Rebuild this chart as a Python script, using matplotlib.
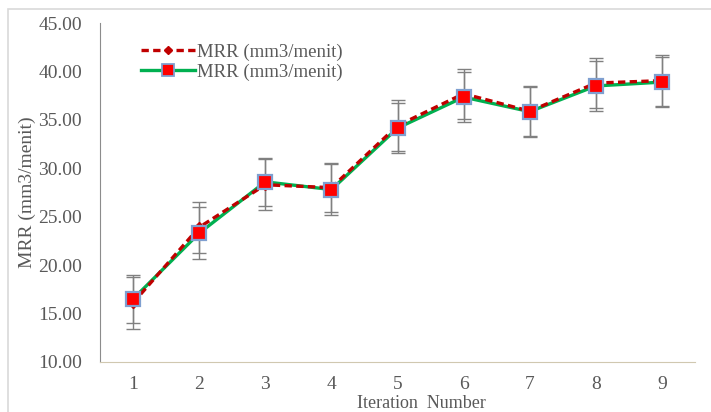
import numpy as np
import matplotlib.pyplot as plt
from matplotlib.lines import Line2D
from matplotlib.patches import Rectangle

# Data
iterations = [1, 2, 3, 4, 5, 6, 7, 8, 9]
mrr_red = [16.1, 23.9, 28.3, 28.0, 34.4, 37.7, 35.9, 38.8, 39.05]
err_red = [2.7, 2.6, 2.65, 2.5, 2.6, 2.6, 2.55, 2.6, 2.65]
mrr_green = [16.5, 23.3, 28.6, 27.8, 34.15, 37.35, 35.85, 38.5, 38.9]
err_green = [2.5, 2.7, 2.45, 2.6, 2.55, 2.55, 2.58, 2.55, 2.55]
series_label = 'MRR (mm3/menit)'

plt.rcParams['font.family'] = ['Liberation Serif', 'DejaVu Serif']

fig = plt.figure(figsize=(7.11, 4.12), dpi=100)
# chart-area border, as in the exported figure
fig.patches.append(Rectangle((8 / 711, -0.1), 1.2, 1.1 - 9 / 412,
                             transform=fig.transFigure, fill=False,
                             edgecolor='#d9d9d9', linewidth=1.2))
ax = fig.add_axes([100 / 711, 50 / 412, 595 / 711, 339 / 412])

red = '#c00000'
green = '#00b050'
grey = '#808080'

ax.errorbar(iterations, mrr_red, yerr=err_red, fmt='none', ecolor=grey,
            elinewidth=1.0, capsize=5, capthick=1.0, zorder=1)
ax.errorbar(iterations, mrr_green, yerr=err_green, fmt='none', ecolor=grey,
            elinewidth=1.0, capsize=5, capthick=1.0, zorder=1)

ax.plot(iterations, mrr_green, color=green, linewidth=2.4, zorder=2)
ax.plot(iterations, mrr_red, color=red, linewidth=2.4, linestyle=(0, (2.2, 1.3)),
        marker='D', markersize=5, markerfacecolor=red, markeredgecolor=red, zorder=3)
ax.plot(iterations, mrr_green, linestyle='none', marker='s', markersize=10.5,
        markerfacecolor='#ff0000', markeredgecolor='#7f9fd0', markeredgewidth=1.6, zorder=4)

ax.set_xlim(0.5, 9.5)
ax.set_ylim(10, 45)
ax.set_xticks(iterations)
ax.set_yticks(np.arange(10, 46, 5))
ax.set_yticklabels([f'{v:.2f}' for v in np.arange(10, 46, 5)])
ax.tick_params(axis='both', length=0, labelsize=14, labelcolor='#595959')
ax.tick_params(axis='y', pad=13)
ax.tick_params(axis='x', pad=10)

for s in ['top', 'right']:
    ax.spines[s].set_visible(False)
ax.spines['left'].set_color('#8c8c8c')
ax.spines['bottom'].set_color('#d0c8b0')

ax.set_ylabel(series_label, fontsize=14, color='#595959')
ax.yaxis.set_label_coords(-0.107, 0.5)
ax.set_xlabel('Iteration  Number', fontsize=13, color='#595959')
ax.xaxis.set_label_coords(0.54, -0.097)

handles = [
    Line2D([], [], color=red, linewidth=2.4, linestyle=(0, (2.2, 1.3)),
           marker='D', markersize=4.5, markerfacecolor=red, markeredgecolor=red),
    Line2D([], [], color=green, linewidth=2.4, marker='s', markersize=8,
           markerfacecolor='#ff0000', markeredgecolor='#7f9fd0', markeredgewidth=1.3),
]
ax.legend(handles, [series_label, series_label], loc='upper left',
          bbox_to_anchor=(0.04, 0.99), frameon=False, fontsize=13.5,
          handlelength=2.9, handletextpad=0.1, labelspacing=0.15,
          labelcolor='#595959')

fig.savefig('out.png', dpi=100)
